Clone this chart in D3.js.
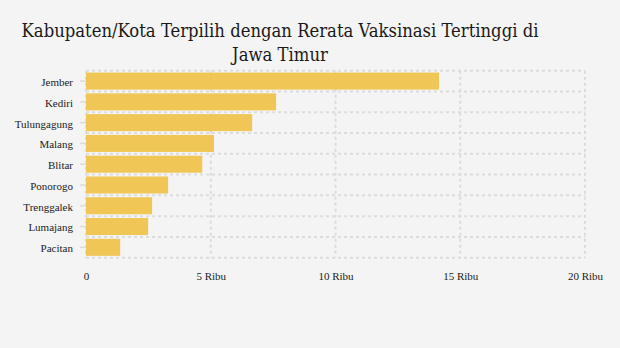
<!DOCTYPE html>
<html>
<head>
<meta charset="utf-8">
<script src="https://cdn.jsdelivr.net/npm/d3@7/dist/d3.min.js"></script>
<style>
  html, body { margin: 0; padding: 0; background: #f4f4f4; }
  svg { display: block; }
</style>
</head>
<body>
<svg id="chart" width="620" height="348"></svg>
<script>
// Regencies / cities and their average vaccination figures
const regions = ["Jember", "Kediri", "Tulungagung", "Malang", "Blitar", "Ponorogo", "Trenggalek", "Lumajang", "Pacitan"];
const values = [14150, 7620, 6660, 5130, 4660, 3290, 2650, 2490, 1370];
const xTicks = [0, 5000, 10000, 15000, 20000];
const xTickLabels = ["0", "5 Ribu", "10 Ribu", "15 Ribu", "20 Ribu"];
const titleLines = ["Kabupaten/Kota Terpilih dengan Rerata Vaksinasi Tertinggi di", "Jawa Timur"];

const data = regions.map((r, i) => ({ region: r, value: values[i] }));

const svg = d3.select("#chart");
const margin = { top: 70.7, right: 35, bottom: 90.3, left: 86 };
const W = 620, H = 348;
const innerW = W - margin.left - margin.right;
const innerH = H - margin.top - margin.bottom;

svg.append("rect").attr("width", W).attr("height", H).attr("fill", "#f4f4f4");

// Title
svg.append("text")
  .attr("x", 280)
  .attr("y", 37)
  .attr("text-anchor", "middle")
  .attr("font-family", "'DejaVu Serif Condensed', 'DejaVu Serif', serif")
  .attr("font-stretch", "condensed")
  .attr("font-size", 18.3)
  .attr("fill", "#1a1a1a")
  .selectAll("tspan")
  .data(titleLines)
  .join("tspan")
  .attr("x", 280)
  .attr("dy", (d, i) => i === 0 ? 0 : 23.5)
  .text(d => d);

const g = svg.append("g").attr("transform", `translate(${margin.left},${margin.top})`);

const x = d3.scaleLinear().domain([0, 20000]).range([0, innerW]);
const y = d3.scaleBand().domain(regions).range([0, innerH]).paddingInner(0.18).paddingOuter(0.09);

const gridStyle = sel => sel
  .attr("stroke", "#dcdcdc")
  .attr("stroke-width", 2)
  .attr("stroke-dasharray", "3,3");

// Horizontal grid lines at band boundaries
const bounds = d3.range(regions.length + 1).map(i => i * innerH / regions.length);
g.append("g").selectAll("line")
  .data(bounds)
  .join("line")
  .attr("x1", 0).attr("x2", innerW)
  .attr("y1", d => d).attr("y2", d => d)
  .call(gridStyle);

// Vertical grid lines at value ticks
g.append("g").selectAll("line")
  .data(xTicks)
  .join("line")
  .attr("x1", d => x(d)).attr("x2", d => x(d))
  .attr("y1", 0).attr("y2", innerH)
  .call(gridStyle);

// Bars
g.append("g").selectAll("rect")
  .data(data)
  .join("rect")
  .attr("x", 0)
  .attr("y", d => y(d.region))
  .attr("width", d => x(d.value))
  .attr("height", y.bandwidth())
  .attr("fill", "#f0c245")
  .attr("fill-opacity", 0.9);

// Category axis
const yAxis = g.append("g")
  .call(d3.axisLeft(y).tickSize(6).tickPadding(7));
yAxis.select(".domain").remove();
yAxis.selectAll(".tick line").attr("stroke", "#dcdcdc").attr("stroke-width", 1.5);
yAxis.selectAll(".tick text")
  .attr("font-family", "'Liberation Serif', 'Times New Roman', serif")
  .attr("font-size", 11)
  .attr("dy", "0.45em")
  .attr("fill", "#222");

// Value axis
const xAxis = g.append("g")
  .attr("transform", `translate(0,${innerH})`)
  .call(d3.axisBottom(x).tickValues(xTicks).tickFormat((d, i) => xTickLabels[i]).tickSize(0).tickPadding(15));
xAxis.select(".domain").remove();
xAxis.selectAll(".tick text")
  .attr("font-family", "'Liberation Serif', 'Times New Roman', serif")
  .attr("font-size", 11)
  .attr("fill", "#222");
</script>
</body>
</html>
